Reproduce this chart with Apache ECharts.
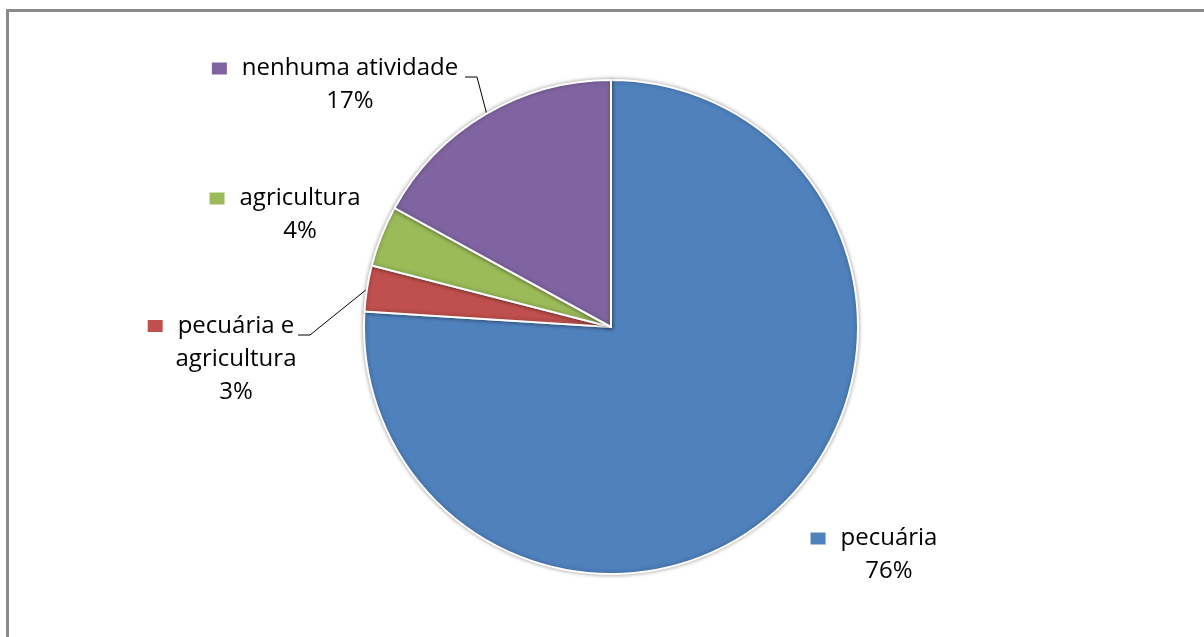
<!DOCTYPE html>
<html>
<head>
<meta charset="utf-8">
<script src="https://cdn.jsdelivr.net/npm/echarts@6/dist/echarts.min.js"></script>
<style>
  html, body { margin: 0; padding: 0; background: #fff; }
  #chart { width: 1204px; height: 637px; }
</style>
</head>
<body>
<div id="chart"></div>
<script>
const categories = ['pecuária', 'pecuária e\nagricultura', 'agricultura', 'nenhuma atividade'];
const values = [76, 3, 4, 17];
const colors = ['#4F81BD', '#C0504D', '#9BBB59', '#8064A2'];

// label block centres, and leader lines (null = no line)
const labelPos = [[874, 555], [221, 359], [285, 215], [335, 85]];
const leaderLines = [
    null,
    [[367, 289], [310, 335], [298, 335]],
    null,
    [[487, 115], [477, 77], [465, 77]]
];

const markerW = 15;
const gapW = 15;

let rich = {
    n: { fontSize: 24, color: '#000', lineHeight: 33, fontFamily: 'Open Sans' },
    p: { fontSize: 24, color: '#000', lineHeight: 33, fontFamily: 'Open Sans', padding: [0, 0, 0, markerW + gapW] },
    s: { width: gapW, height: 12 }
};
colors.forEach((c, i) => {
    rich['m' + i] = { width: markerW, height: 12, backgroundColor: c };
});

function labelText(params) {
    let lines = params.name.split('\n');
    let out = '{m' + params.dataIndex + '|}{s|}{n|' + lines[0] + '}';
    for (let k = 1; k < lines.length; k++) {
        out += '\n{p|' + lines[k] + '}';
    }
    out += '\n{p|' + params.value + '%}';
    return out;
}

let chartDom = document.getElementById('chart');
let myChart = echarts.init(chartDom);
let option;

option = {
    animation: false,
    graphic: [{
        type: 'rect',
        shape: { x: 7.5, y: 10.5, width: 1300, height: 700 },
        style: { fill: 'none', stroke: '#8a8a8a', lineWidth: 3 }
    }],
    series: [{
        type: 'pie',
        center: [611, 327],
        radius: 247,
        startAngle: 90,
        clockwise: true,
        itemStyle: {
            borderColor: '#fff',
            borderWidth: 2,
            shadowBlur: 4,
            shadowColor: 'rgba(0,0,0,0.35)'
        },
        label: {
            show: true,
            position: 'outside',
            align: 'center',
            formatter: labelText,
            rich
        },
        labelLine: {
            show: true,
            lineStyle: { color: '#000', width: 1 }
        },
        labelLayout: function (params) {
            let i = params.dataIndex;
            let res = {
                x: labelPos[i][0],
                y: labelPos[i][1],
                align: 'center',
                verticalAlign: 'middle',
                moveOverlap: false
            };
            if (leaderLines[i]) {
                res.labelLinePoints = leaderLines[i];
            }
            return res;
        },
        data: categories.map((name, i) => ({
            name,
            value: values[i],
            itemStyle: { color: colors[i] },
            labelLine: { show: leaderLines[i] !== null }
        }))
    }]
};

option && myChart.setOption(option);
</script>
</body>
</html>
